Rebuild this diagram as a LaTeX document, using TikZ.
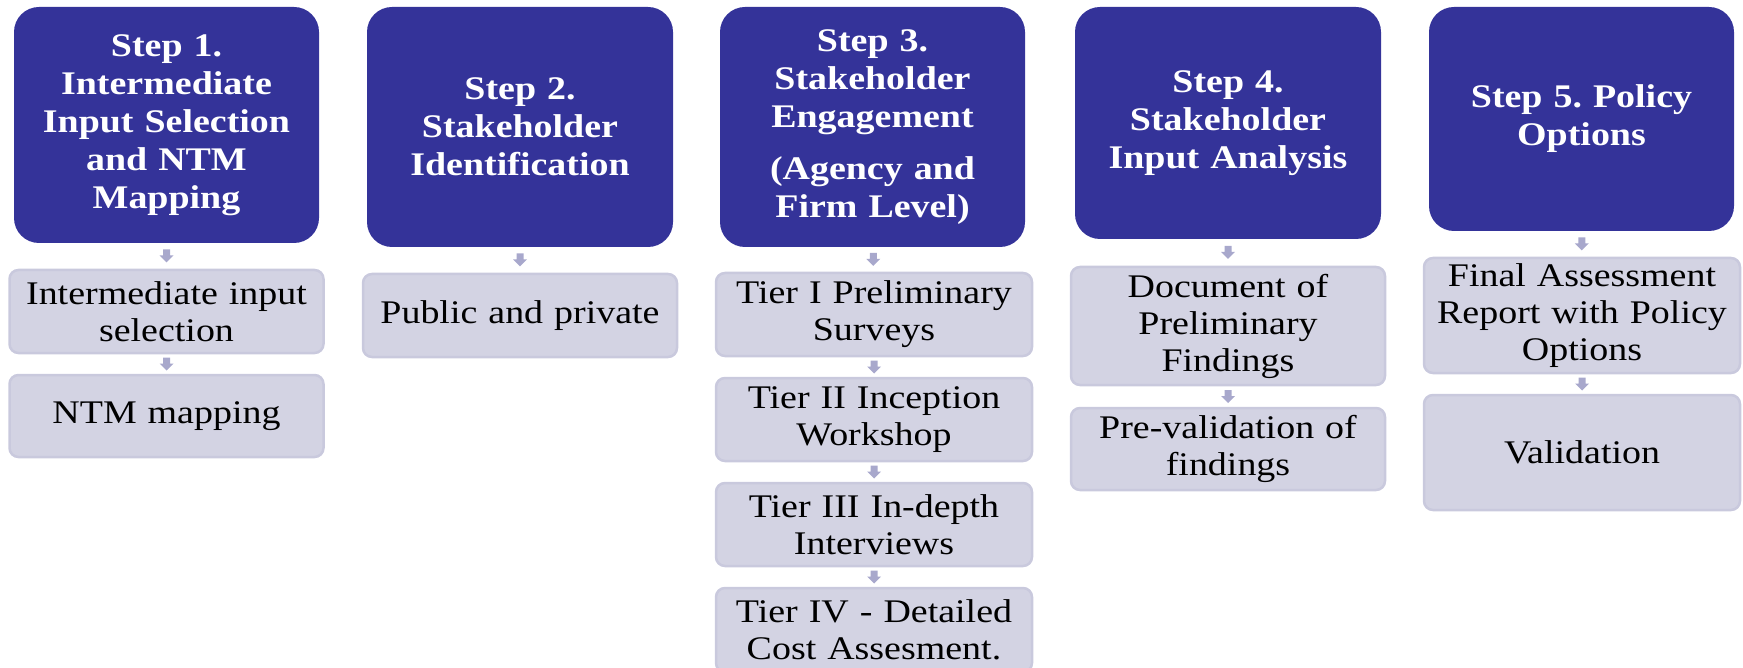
\documentclass[tikz,border=0pt]{standalone}
\usepackage{fontspec}
\setmainfont{Liberation Serif}[FakeStretch=1.15]
\usetikzlibrary{calc}
\definecolor{headblue}{HTML}{343399}
\definecolor{subfill}{HTML}{D3D3E3}
\definecolor{subline}{HTML}{C9C9DD}
\definecolor{arrowcol}{HTML}{A8A8CC}
\tikzset{
  head/.style={fill=headblue, rounded corners=25pt, inner sep=0pt, align=center,
    text=white, font=\bfseries\fontsize{33}{38}\selectfont, text width=290pt},
  sub/.style={fill=subfill, draw=subline, line width=2.5pt, rounded corners=9pt,
    inner sep=0pt, align=center, text=black, font=\fontsize{33}{37}\selectfont,
    text width=306pt, minimum width=314pt},
  downarr/.pic={\fill[arrowcol] (-3.5,-6.5) -- (3.5,-6.5) -- (3.5,-0.5) -- (7,-0.5) -- (0,6.5) -- (-7,-0.5) -- (-3.5,-0.5) -- cycle;}
}
\frenchspacing
\begin{document}
\frenchspacing
\begin{tikzpicture}[x=1pt,y=-1pt]
\useasboundingbox (0,0) rectangle (1743,668);
% headers
\node[head, minimum width=305pt, minimum height=236pt] (h1) at (166.5,125) {Step 1.\\Intermediate\\Input Selection\\and NTM\\Mapping};
\node[head, minimum width=306pt, minimum height=240pt] (h2) at (520,127) {Step 2.\\Stakeholder\\Identification};
\node[head, minimum width=305pt, minimum height=240pt] (h3) at (872.5,127) {Step 3.\\Stakeholder\\Engagement\\[14pt](Agency and\\Firm Level)};
\node[head, minimum width=306pt, minimum height=232pt] (h4) at (1228,123) {Step 4.\\Stakeholder\\Input Analysis};
\node[head, minimum width=305pt, minimum height=224pt] (h5) at (1581.5,119) {Step 5. Policy\\Options};
% sub boxes
\node[sub, minimum height=83pt] (s1a) at (166.5,311.5) {Intermediate input\\selection};
\node[sub, minimum height=82pt] (s1b) at (166.5,416) {NTM mapping};
\node[sub, minimum height=83pt] (s2a) at (520,315.5) {Public and private};
\node[sub, minimum width=316pt, minimum height=83pt] (s3a) at (874,314.5) {Tier I Preliminary\\Surveys};
\node[sub, minimum width=316pt, minimum height=83pt] (s3b) at (874,419.5) {Tier II Inception\\Workshop};
\node[sub, minimum width=316pt, minimum height=83pt] (s3c) at (874,524.5) {Tier III In-depth\\Interviews};
\node[sub, minimum width=316pt, minimum height=84pt] (s3d) at (874,630) {Tier IV - Detailed\\Cost Assesment.};
\node[sub, minimum height=118pt] (s4a) at (1228,326) {Document of\\Preliminary\\Findings};
\node[sub, minimum height=82pt] (s4b) at (1228,449) {Pre-validation of\\findings};
\node[sub, minimum width=316pt, minimum height=115pt] (s5a) at (1582,315.5) {Final Assessment\\Report with Policy\\Options};
\node[sub, minimum width=316pt, minimum height=115pt] (s5b) at (1582,452.5) {Validation};
% connectors
\foreach \a/\b in {h1/s1a, s1a/s1b, h2/s2a, h3/s3a, s3a/s3b, s3b/s3c, s3c/s3d, h4/s4a, s4a/s4b, h5/s5a, s5a/s5b}{
  \path (\a.south) -- (\b.north) coordinate[midway] (m-\a);
  \pic at (m-\a) {downarr};
}
\end{tikzpicture}
\end{document}
